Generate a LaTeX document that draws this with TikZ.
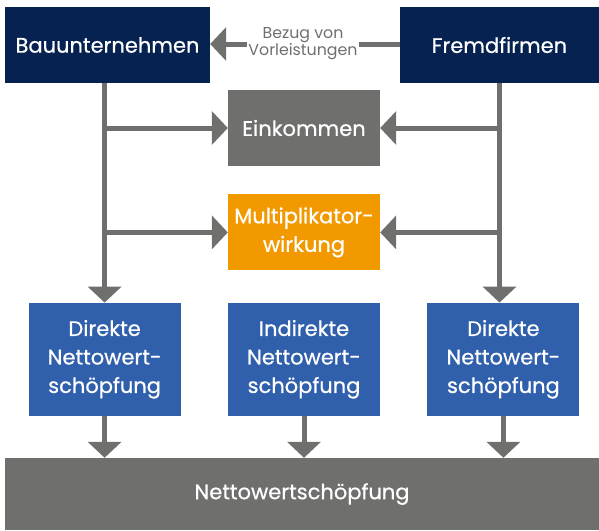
\documentclass[tikz,border=0pt]{standalone}
\usepackage{fontspec}
\setmainfont{Poppins}
\newfontfamily\boxfont{Poppins}[FakeBold=0.6]
\usepackage{xcolor}
\usepackage{tikz}
\usetikzlibrary{positioning,arrows.meta}

\definecolor{navy}{RGB}{5,34,80}
\definecolor{stone}{RGB}{111,111,110}
\definecolor{amber}{RGB}{243,153,0}
\definecolor{cobalt}{RGB}{48,96,172}

\begin{document}
\begin{tikzpicture}[
    x=1pt, y=-1pt,
    node distance=28pt,
    box/.style={rectangle, text=white, align=center, inner sep=0pt, font=\boxfont\fontsize{21}{28.5}\selectfont},
    firm/.style={box, fill=navy, minimum height=76pt},
    effect/.style={box, minimum width=152pt, minimum height=76pt},
    share/.style={box, fill=cobalt, minimum width=152pt, minimum height=113pt},
    lbl/.style={text=stone, align=center, inner sep=1.5pt, font=\fontsize{15.8}{17}\selectfont},
    link/.style={draw=stone, line width=5pt},
    flow/.style={link, -{Triangle[length=16pt,width=33pt]}}
]
\useasboundingbox (0,0) rectangle (599,530);

\node[firm, minimum width=205pt] (bau) at (107.5,45) {Bauunternehmen};
\node[firm, minimum width=199pt] (fremd) at (499.5,45) {Fremdfirmen};
\node[lbl] (bezug) at (303,44) {Bezug von\\Vorleistungen};

\node[effect, fill=stone] (eink) at (304,128) {Einkommen};
\node[effect, fill=amber, below=of eink] (multi) {Multiplikator-\\wirkung};

\node[share, below=32pt of multi] (indirekt) {Indirekte\\Nettowert-\\schöpfung};
\node[share, left=47pt of indirekt] (direkt1) {Direkte\\Nettowert-\\schöpfung};
\node[share, right=47pt of indirekt] (direkt2) {Direkte\\Nettowert-\\schöpfung};

\node[box, fill=stone, minimum width=594pt, minimum height=72pt] (total) at (302,494) {Nettowertschöpfung};

% Vorleistungen
\draw[link] (fremd.west |- bezug.east) -- (bezug.east);
\draw[flow] (bezug.west) -- (bau.east |- bezug.west);

% Stränge nach unten
\draw[flow] (bau.south -| direkt1.north) -- (direkt1.north);
\draw[flow] (fremd.south) -- (fremd.south |- direkt2.north);

\draw[flow] (direkt1.north |- eink.west) -- (eink.west);
\draw[flow] (direkt1.north |- multi.west) -- (multi.west);
\draw[flow] (fremd.south |- eink.east) -- (eink.east);
\draw[flow] (fremd.south |- multi.east) -- (multi.east);

\draw[flow] (direkt1.south) -- (direkt1.south |- total.north);
\draw[flow] (indirekt.south) -- (indirekt.south |- total.north);
\draw[flow] (direkt2.south) -- (direkt2.south |- total.north);

\end{tikzpicture}
\end{document}
